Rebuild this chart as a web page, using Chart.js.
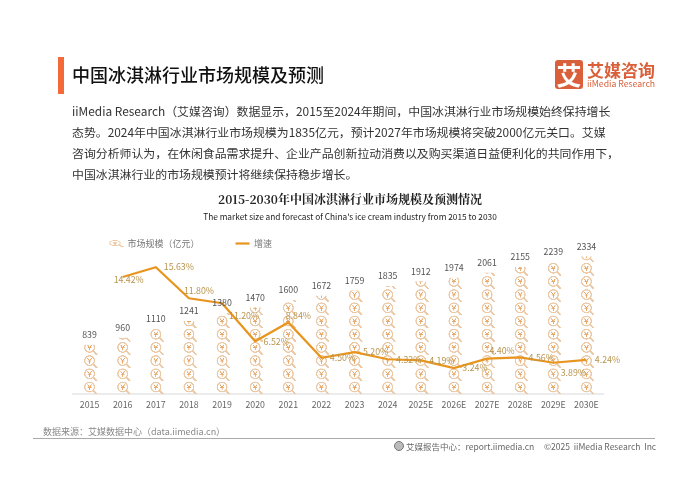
<!DOCTYPE html>
<html>
<head>
<meta charset="utf-8">
<script src="https://cdn.jsdelivr.net/npm/chart.js@4/dist/chart.umd.min.js"></script>
<style>
  html, body { margin: 0; padding: 0; background: #fff; }
  #page { position: relative; width: 700px; height: 495px; overflow: hidden; font-family: "Noto Sans CJK SC", "Noto Sans", sans-serif; }
  #page div { position: absolute; white-space: nowrap; }
  canvas { position: absolute; left: 0; top: 0; }
  .body { left: 72px; width: 540px; font-size: 11.9px; color: #333; line-height: 20px; }
</style>
</head>
<body>
<div id="page">
  <canvas id="chart" width="700" height="495"></canvas>
  <div style="left:58px;top:57px;width:6px;height:37px;background:#f4693a"></div>
  <div style="left:72px;top:62px;font-size:18px;font-weight:500;color:#111;line-height:24px">中国冰淇淋行业市场规模及预测</div>
  <div style="left:555px;top:60px;width:28px;height:29px;border-radius:3px;background:#d9603a;color:#fff;font-size:25px;font-weight:700;line-height:28px;text-align:center">艾</div>
  <div style="left:587px;top:59px;font-size:17px;font-weight:700;color:#d9603a;line-height:22px">艾媒咨询</div>
  <div style="left:587px;top:78px;font-size:8.7px;color:#d9603a;line-height:12px">iiMedia Research</div>
  <div class="body" style="top:101px">iiMedia Research（艾媒咨询）数据显示，2015至2024年期间，中国冰淇淋行业市场规模始终保持增长</div>
  <div class="body" style="top:122px">态势。2024年中国冰淇淋行业市场规模为1835亿元，预计2027年市场规模将突破2000亿元关口。艾媒</div>
  <div class="body" style="top:143px">咨询分析师认为，在休闲食品需求提升、企业产品创新拉动消费以及购买渠道日益便利化的共同作用下，</div>
  <div class="body" style="top:164px">中国冰淇淋行业的市场规模预计将继续保持稳步增长。</div>
  <div style="left:0;width:700px;top:190px;text-align:center;font-family:'Noto Serif CJK SC','Noto Sans CJK SC',serif;font-size:12px;font-weight:700;color:#222;line-height:18px">2015-2030年中国冰淇淋行业市场规模及预测情况</div>
  <div style="left:0;width:700px;top:210px;text-align:center;font-size:8.3px;color:#222;line-height:13px">The market size and forecast of China's ice cream industry from 2015 to 2030</div>
  <div style="left:43px;top:425px;font-size:9px;color:#888;line-height:14px">数据来源：艾媒数据中心（data.iimedia.cn）</div>
  <div style="left:33px;top:438px;width:622px;height:1px;background:#aaa"></div>
  <div style="left:394px;top:441px;width:8px;height:8px;border-radius:5px;border:1px solid #777;background:#bbb"></div>
  <div style="left:406px;top:440px;font-size:8.5px;color:#666;line-height:13px">艾媒报告中心：report.iimedia.cn</div>
  <div style="left:544px;top:440px;font-size:8.5px;color:#666;line-height:13px">©2025&nbsp; iiMedia Research&nbsp; Inc</div>
</div>
<script>
const years = ['2015', '2016', '2017', '2018', '2019', '2020', '2021', '2022', '2023', '2024', '2025E', '2026E', '2027E', '2028E', '2029E', '2030E'];
const marketSize = [839, 960, 1110, 1241, 1380, 1470, 1600, 1672, 1759, 1835, 1912, 1974, 2061, 2155, 2239, 2334];
const growthRate = [null, 14.42, 15.63, 11.80, 11.20, 6.52, 8.84, 4.50, 5.20, 4.32, 4.19, 3.24, 4.40, 4.56, 3.89, 4.24];

// where each growth label sits relative to its point
const growthLabelDx = [0, 6, 23, 10, 22, 21, 10, 21, 21, 21, 21, 21, 15, 21, 20, 21];
const growthLabelDy = [0, 3, 0, -8, 12, 0, -7, 0, 0, 0, 0, 0, -8, 0, 10, 0];

const FONT = '"Noto Sans CJK SC", "Noto Sans", sans-serif';
const ICON_W = 14;
const ICON_H = 13.2;

function drawIcon(c) {
  // magnifier with a yen sign, in a 14 x 13.2 box
  c.lineCap = 'round';
  c.strokeStyle = '#ecc9a6';
  c.lineWidth = 1.3;
  c.beginPath();
  c.arc(6, 5.8, 4.8, 0, Math.PI * 2);
  c.stroke();
  c.lineWidth = 1.8;
  c.beginPath();
  c.moveTo(9.6, 9.2);
  c.lineTo(13, 12.8);
  c.stroke();
  c.strokeStyle = '#e8a868';
  c.lineWidth = 0.9;
  c.beginPath();
  c.moveTo(4.2, 3.6); c.lineTo(6, 6); c.lineTo(7.8, 3.6);
  c.moveTo(6, 6); c.lineTo(6, 8.4);
  c.moveTo(4.4, 6.2); c.lineTo(7.6, 6.2);
  c.stroke();
}

const iconCanvas = document.createElement('canvas');
iconCanvas.width = ICON_W * 4;
iconCanvas.height = Math.ceil(ICON_H * 4);
const iconCtx = iconCanvas.getContext('2d');
iconCtx.scale(4, 4);
drawIcon(iconCtx);

// legend version is squashed flat like in the original
const legendIcon = document.createElement('canvas');
legendIcon.width = 15;
legendIcon.height = 7;
legendIcon.getContext('2d').drawImage(iconCanvas, 0, 0, 15, 7);

// legend floats over the plot, so it must not take any height from it
const floatingLegend = {
  id: 'floatingLegend',
  beforeLayout(chart) {
    const legend = chart.legend;
    if (legend.floating) return;
    legend.floating = true;
    const fit = legend.fit;
    legend.fit = function () {
      fit.call(this);
      this.height = 0;
    };
  },
  afterLayout(chart) {
    chart.legend.bottom = chart.legend.top + 60;
  }
};

const iconBars = {
  id: 'iconBars',
  afterDatasetDraw(chart, args) {
    if (args.index !== 0) return;
    const c = chart.ctx;
    chart.getDatasetMeta(0).data.forEach(bar => {
      const left = bar.x - ICON_W / 2 + 1;
      c.save();
      c.beginPath();
      c.rect(left - 2, bar.y, ICON_W + 4, bar.base - bar.y);
      c.clip();
      for (let y = bar.base - ICON_H; y > bar.y - ICON_H; y -= ICON_H) {
        c.drawImage(iconCanvas, left, y, ICON_W, ICON_H);
      }
      c.restore();
    });
  }
};

const valueLabels = {
  id: 'valueLabels',
  afterDatasetsDraw(chart) {
    const c = chart.ctx;
    c.save();
    c.textAlign = 'center';
    c.textBaseline = 'middle';
    c.font = '8.8px ' + FONT;
    c.fillStyle = '#555';
    chart.getDatasetMeta(0).data.forEach((bar, i) => {
      c.fillText(String(marketSize[i]), bar.x, bar.y - 10);
    });
    c.fillStyle = '#b8944e';
    chart.getDatasetMeta(1).data.forEach((pt, i) => {
      if (growthRate[i] === null) return;
      c.fillText(growthRate[i].toFixed(2) + '%', pt.x + growthLabelDx[i], pt.y + growthLabelDy[i]);
    });
    c.restore();
  }
};

new Chart(document.getElementById('chart').getContext('2d'), {
  type: 'bar',
  data: {
    labels: years,
    datasets: [{
      label: '市场规模（亿元）',
      data: marketSize,
      backgroundColor: 'rgba(0,0,0,0)',
      barThickness: 14,
      yAxisID: 'y',
      order: 2
    }, {
      type: 'line',
      label: '增速',
      data: growthRate,
      borderColor: '#e8951f',
      borderWidth: 2.2,
      pointRadius: 0,
      tension: 0,
      yAxisID: 'y2',
      order: 1
    }]
  },
  options: {
    responsive: false,
    animation: false,
    layout: { padding: { left: 73, right: 97, top: 203, bottom: 80 } },
    plugins: {
      tooltip: { enabled: false },
      legend: {
        position: 'top',
        align: 'start',
        labels: {
          usePointStyle: true,
          pointStyleWidth: 14,
          padding: 36,
          color: '#777',
          font: { family: FONT, size: 9 },
          generateLabels: () => [
            { text: '市场规模（亿元）', pointStyle: legendIcon, fontColor: '#777', strokeStyle: 'rgba(0,0,0,0)', fillStyle: 'rgba(0,0,0,0)', lineWidth: 0, datasetIndex: 0 },
            { text: '增速', pointStyle: 'line', fontColor: '#777', strokeStyle: '#e8951f', fillStyle: '#e8951f', lineWidth: 2.2, datasetIndex: 1 }
          ]
        }
      }
    },
    scales: {
      x: {
        grid: { display: false, drawTicks: false },
        border: { color: '#ececec', width: 2 },
        ticks: { color: '#666', padding: 5, font: { family: FONT, size: 8.8 }, maxRotation: 0, autoSkip: false }
      },
      y: { display: false, min: 0, max: 3240 },
      y2: { display: false, min: 0, max: 23.5 }
    }
  },
  plugins: [floatingLegend, iconBars, valueLabels]
});
</script>
</body>
</html>
